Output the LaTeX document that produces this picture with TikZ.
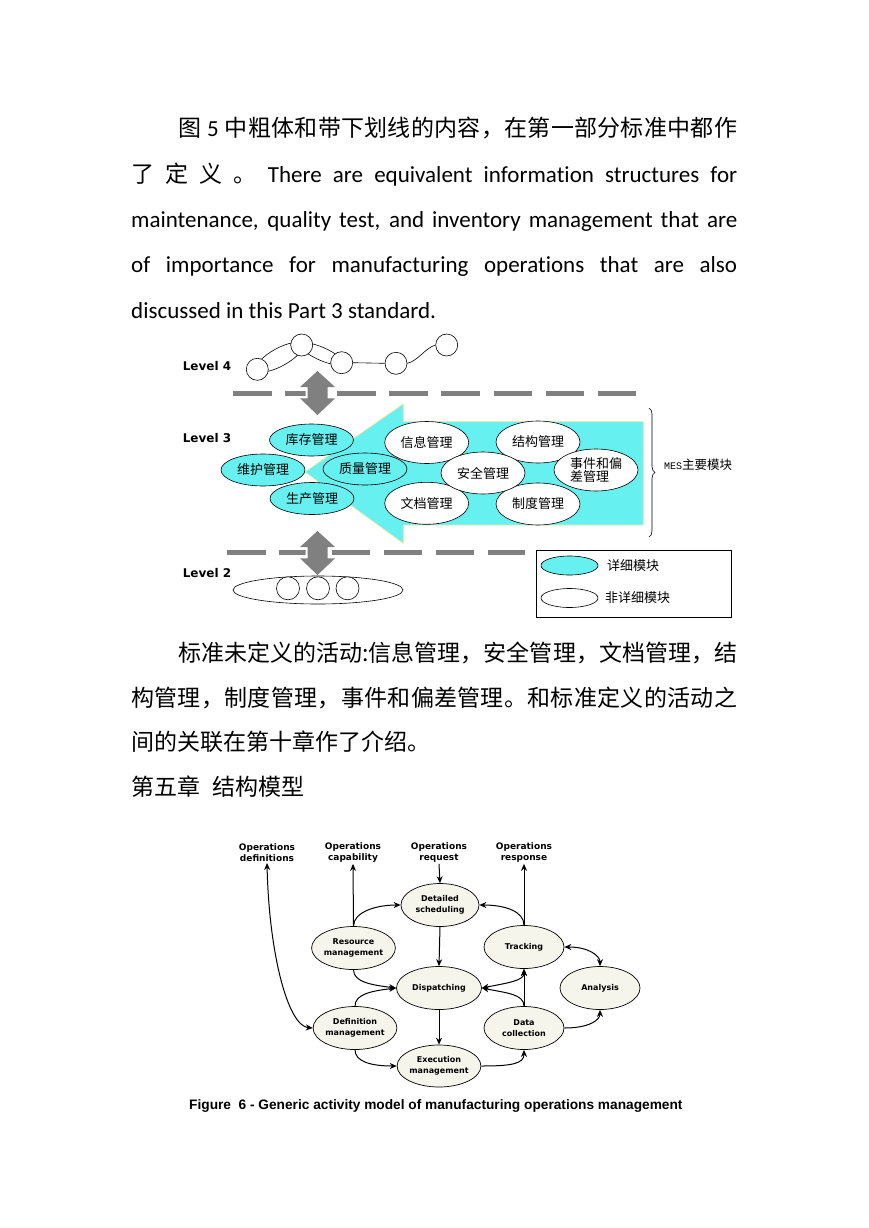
\documentclass[tikz,border=0pt]{standalone}
\usepackage{fontspec}
\setmainfont{Carlito}[Ligatures=NoCommon]
\newfontfamily\cjk{Noto Sans CJK SC}
\newfontfamily\dvs{DejaVu Sans}
\newfontfamily\lsans{Liberation Sans}
\newfontfamily\lmono{Liberation Mono}
\usetikzlibrary{shapes.geometric,arrows.meta,decorations.pathreplacing}
\definecolor{mcyan}{RGB}{102,240,240}
\definecolor{mgray}{RGB}{128,128,128}
\definecolor{actfill}{RGB}{245,245,235}
\definecolor{arrowedge}{RGB}{225,235,170}
\def\cjkspread#1{\cjkspreadA#1\relax}
\def\cjkspreadA#1{\ifx#1\relax\else#1\hskip0pt plus 1pt\expandafter\cjkspreadA\fi}
\newcommand\bodyfont{\fontsize{23}{23}\selectfont}
\begin{document}
\begin{tikzpicture}[x=1pt,y=-1pt,
  line/.style={anchor=base west, inner sep=0pt, font=\bodyfont},
  lvl/.style={inner sep=0pt, font=\dvs\bfseries\fontsize{12}{14}\selectfont},
  mdash/.style={mgray, line width=5.5pt, dash pattern=on 38.7pt off 13.4pt},
  grayarrow/.style={fill=mgray, draw=white, line width=4pt, line join=miter},
  circ/.style={circle, draw, fill=white, minimum size=22pt, inner sep=0pt, line width=0.6pt},
  cymod/.style={ellipse, draw, line width=0.6pt, fill=mcyan, inner sep=0pt, minimum width=84pt, minimum height=32pt, font=\cjk\fontsize{13}{13}\selectfont},
  whmod/.style={cymod, fill=white, minimum height=42pt},
  legtext/.style={anchor=west, inner sep=0pt, font=\cjk\fontsize{13}{13}\selectfont},
  act/.style={ellipse, draw, fill=actfill, line width=0.7pt, minimum width=78pt, minimum height=43pt, inner sep=0pt, align=center, font=\dvs\bfseries\fontsize{8}{10.5}\selectfont},
  toplbl/.style={align=center, inner sep=1pt, font=\dvs\bfseries\fontsize{9}{11.6}\selectfont},
  arr/.style={line width=1pt, -{Stealth[length=7pt,width=6pt]}},
  darr/.style={line width=1pt, {Stealth[length=7pt,width=6pt]}-{Stealth[length=7pt,width=6pt]}}
]
\useasboundingbox[fill=white] (0,0) rectangle (869,1228);

% ---------- body text, upper ----------
\node[line] (p1) at (178,136.7) {\hbox to 559pt{\cjk 图\rmfamily\ 5\ \cjk\cjkspread{中粗体和带下划线的内容，在第一部分标准中都作}\unskip}};
\node[line] (p2) at (131,182) {\hbox to 606pt{{\cjk 了} {\cjk 定} {\cjk 义} {\cjk 。} There are equivalent information structures for}};
\node[line] (p3) at (131,227.3) {\hbox to 606pt{maintenance, quality test, and inventory management that are}};
\node[line] (p4) at (131,272.6) {\hbox to 606pt{of importance for manufacturing operations that are also}};
\node[line] (p5) at (131,318) {discussed in this Part 3 standard.};

% ---------- level diagram ----------
\node[lvl] (l4) at (207,366) {Level 4};
\node[lvl] (l3) at (207,438.3) {Level 3};
\node[lvl] (l2) at (207,573.3) {Level 2};

\draw[line width=0.6pt, shift={(279.5,357.2)}, rotate=28.7] (0,0) ellipse [x radius=26pt, y radius=9pt];
\draw[line width=0.6pt, shift={(321.7,353.9)}, rotate=-23.9] (0,0) ellipse [x radius=23pt, y radius=6.5pt];
\node[circ] (c1) at (257.3,369.3) {};
\node[circ] (c2) at (301.7,345) {};
\node[circ] (c3) at (341.7,362.7) {};
\node[circ] (c4) at (396,363.3) {};
\node[circ] (c5) at (446.7,345) {};
\draw[line width=0.6pt] (c3.east) -- (c4.west);
\draw[line width=0.6pt] (c4.east) .. controls +(10,-2) and +(-10,3) .. (c5.west);

\draw[mdash] (233,393.3) -- (637,393.3);
\draw[mdash] (227.3,552.7) -- (525,552.7);

\filldraw[grayarrow] (317.5,371) -- (335,387) -- (327.5,387) -- (327.5,398.3) -- (335,398.3) -- (317.5,415) -- (300,398.3) -- (307.5,398.3) -- (307.5,387) -- (300,387) -- cycle;
\fill[mgray] (317.5,371) -- (335,387) -- (327.5,387) -- (327.5,398.3) -- (335,398.3) -- (317.5,415) -- (300,398.3) -- (307.5,398.3) -- (307.5,387) -- (300,387) -- cycle;
\filldraw[grayarrow] (317.5,531) -- (335,547) -- (327.5,547) -- (327.5,558.3) -- (335,558.3) -- (317.5,575) -- (300,558.3) -- (307.5,558.3) -- (307.5,547) -- (300,547) -- cycle;
\fill[mgray] (317.5,531) -- (335,547) -- (327.5,547) -- (327.5,558.3) -- (335,558.3) -- (317.5,575) -- (300,558.3) -- (307.5,558.3) -- (307.5,547) -- (300,547) -- cycle;

\filldraw[fill=mcyan, draw=arrowedge, line width=0.8pt] (305,472) -- (403.3,404) -- (403.3,421.7) -- (643.3,421.7) -- (643.3,525) -- (403.3,525) -- (403.3,543.3) -- cycle;

\node[cymod] (kc) at (311.5,440) {库存管理};
\node[cymod] (sc) at (312,498.5) {生产管理};
\node[cymod] (wh) at (263,470) {维护管理};
\node[cymod] (zl) at (365,469) {质量管理};

\node[whmod] (xx) at (426.7,442.5) {信息管理};
\node[whmod] (jg) at (538,442) {结构管理};
\node[whmod] (wd) at (426.7,503.3) {文档管理};
\node[whmod] (zd) at (538,504) {制度管理};
\node[whmod] (aq) at (483,473) {安全管理};
\node[whmod, align=left] (sj) at (596,470) {事件和偏\\差管理};

\draw[decorate, decoration={brace, amplitude=6pt}, line width=0.6pt] (649,408) -- (649,537);
\node[anchor=west, inner sep=0pt] (mes) at (664,465) {{\lmono\fontsize{10}{12}\selectfont MES}{\cjk\fontsize{12.5}{13}\selectfont 主要模块}};

\node[draw, line width=0.8pt, minimum width=195pt, minimum height=67pt, inner sep=0pt] (leg) at (633.5,583.5) {};
\node[ellipse, draw, line width=0.6pt, fill=mcyan, minimum width=57pt, minimum height=19pt, inner sep=0pt] (lg1) at (569.5,565.5) {};
\node[ellipse, draw, line width=0.6pt, fill=white, minimum width=57pt, minimum height=19pt, inner sep=0pt] (lg2) at (569.5,598) {};
\node[legtext] (lt1) at (607,565.5) {详细模块};
\node[legtext] (lt2) at (605,598) {非详细模块};

\node[ellipse, draw, line width=0.6pt, minimum width=170pt, minimum height=28pt, inner sep=0pt] (l2e) at (318,590) {};
\node[circ, minimum size=23pt] (b1) at (288,588.3) {};
\node[circ, minimum size=23pt] (b2) at (318,588.3) {};
\node[circ, minimum size=23pt] (b3) at (347.5,588.3) {};

% ---------- body text, lower ----------
\node[line] (p6) at (178,661) {\hbox to 559pt{\cjk\cjkspread{标准未定义的活动:信息管理，安全管理，文档管理，结}\unskip}};
\node[line] (p7) at (131,706) {\hbox to 606pt{\cjk\cjkspread{构管理，制度管理，事件和偏差管理。和标准定义的活动之}\unskip}};
\node[line] (p8) at (131,750.5) {\cjk 间的关联在第十章作了介绍。};
\node[line] (p9) at (131,795) {\cjk 第五章\hspace{12pt}结构模型};

% ---------- activity model ----------
\node[toplbl] (ods) at (267,852.5) {Operations\\definitions};
\node[toplbl] (ocap) at (353,852.5) {Operations\\capability};
\node[toplbl] (oreq) at (439,852.5) {Operations\\request};
\node[toplbl] (oresp) at (524,852.5) {Operations\\response};

\node[act] (ds) at (440,905) {Detailed\\scheduling};
\node[act, minimum width=85pt] (dis) at (439,988) {Dispatching};
\node[act, minimum height=42pt] (exe) at (439,1066) {Execution\\management};
\node[act, minimum width=80pt] (trk) at (524,947) {Tracking};
\node[act, minimum width=80pt] (dc) at (524,1028) {Data\\collection};
\node[act, minimum width=80pt] (ana) at (600,988) {Analysis};
\node[act, minimum width=77pt] (rm) at (353.5,948) {Resource\\management};
\node[act, minimum width=77pt] (dm) at (355,1028) {Definition\\management};

\draw[darr] (ods.south) .. controls +(2,90) and +(-25,-2) .. (dm.west);
\draw[arr] (rm.north) -- (ocap.south);
\draw[arr] (rm.north) .. controls +(0,-14) and +(-25,0) .. (ds.west);
\draw[arr] (rm.south) .. controls +(0,12) and +(-25,-3) .. (dis.west);
\draw[arr] (dm.north) .. controls +(0,-12) and +(-25,3) .. (dis.west);
\draw[arr] (dm.south) .. controls +(0,12) and +(-25,0) .. (exe.west);
\draw[arr] (oreq.south) -- (ds.north);
\draw[arr] (ds.south) -- (dis.north);
\draw[arr] (dis.south) -- (exe.north);
\draw[arr] (exe.east) .. controls +(30,0) and +(0,14) .. (dc.south);
\draw[arr] (dc.north) -- (trk.south);
\draw[arr] (dc.north) .. controls +(0,-12) and +(25,5) .. (dis.east);
\draw[darr] (dis.east) .. controls +(25,-5) and +(0,12) .. (trk.south);
\draw[arr] (trk.north) -- (oresp.south);
\draw[arr] (trk.north) .. controls +(0,-14) and +(25,0) .. (ds.east);
\draw[darr] (trk.east) .. controls +(25,0) and +(0,-10) .. (ana.north);
\draw[arr] (dc.east) .. controls +(25,0) and +(0,10) .. (ana.south);

\node[anchor=base west, inner sep=0pt, font=\lsans\bfseries\fontsize{13.7}{16}\selectfont] (cap) at (189,1109) {Figure\ \ 6 - Generic activity model of manufacturing operations management};
\end{tikzpicture}
\end{document}
